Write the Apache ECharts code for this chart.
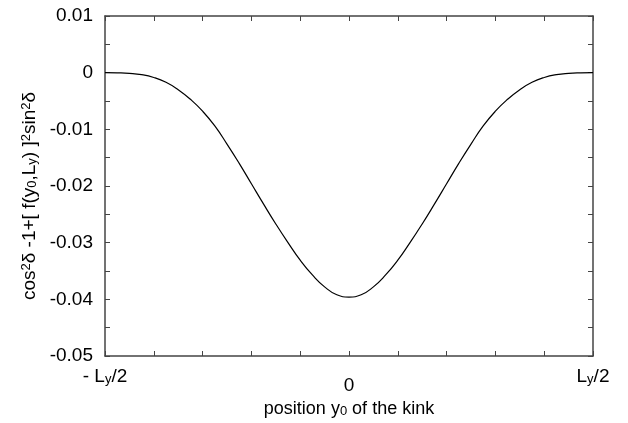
<!DOCTYPE html>
<html>
<head>
<meta charset="utf-8">
<script src="https://cdn.jsdelivr.net/npm/echarts@6/dist/echarts.min.js"></script>
<style>
  html, body { margin: 0; padding: 0; background: #fff; }
  #chart { width: 628px; height: 423px; }
</style>
</head>
<body>
<div id="chart"></div>
<script>
// kink position in units of Ly, from -Ly/2 to Ly/2
var positions = [-0.5, -0.475, -0.45, -0.425, -0.4, -0.375, -0.35, -0.325, -0.3, -0.275,
  -0.25, -0.225, -0.2, -0.175, -0.15, -0.125, -0.1, -0.075, -0.05, -0.025,
  0, 0.025, 0.05, 0.075, 0.1, 0.125, 0.15, 0.175, 0.2, 0.225,
  0.25, 0.275, 0.3, 0.325, 0.35, 0.375, 0.4, 0.425, 0.45, 0.475, 0.5];
var values = [0, -0.00003, -0.00012, -0.00035, -0.00085, -0.0017, -0.0030, -0.0047, -0.0068, -0.0094,
  -0.0126, -0.0160, -0.0196, -0.0232, -0.0267, -0.0300, -0.0331, -0.0357, -0.0378, -0.0392,
  -0.0396, -0.0392, -0.0378, -0.0357, -0.0331, -0.0300, -0.0267, -0.0232, -0.0196, -0.0160,
  -0.0126, -0.0094, -0.0068, -0.0047, -0.0030, -0.0017, -0.00085, -0.00035, -0.00012, -0.00003, 0];
var xTickLabels = { '-0.5': '- L{sub|y}/2', '0': '{n|0}', '0.5': 'L{sub|y}/2' };

var axisColor = '#444';
var font = 'Liberation Sans, Arial, sans-serif';

var myChart = echarts.init(document.getElementById('chart'));

var frameAxis = {
  axisLine: { show: true, onZero: false, lineStyle: { color: axisColor, width: 1.5 } },
  axisTick: { show: true, inside: true, length: 5, lineStyle: { color: axisColor } },
  splitLine: { show: false }
};

var option = {
  animation: false,
  backgroundColor: '#fff',
  grid: { left: 105, right: 35, top: 16, bottom: 67 },
  xAxis: [
    Object.assign({
      type: 'value', min: -0.5, max: 0.5, interval: 0.1,
      name: 'position y{sub|0} of the kink',
      nameLocation: 'middle', nameGap: 33,
      nameTextStyle: {
        color: '#000', fontSize: 18, fontFamily: font,
        rich: { sub: { fontSize: 13, verticalAlign: 'bottom', lineHeight: 10, fontFamily: font, color: '#000' } }
      },
      axisLabel: {
        color: '#000', fontSize: 19, fontFamily: font, margin: 11,
        formatter: function (v) {
          var k = String(Math.round(v * 10) / 10);
          return xTickLabels[k] !== undefined ? xTickLabels[k] : '';
        },
        rich: {
          sub: { fontSize: 13, verticalAlign: 'bottom', lineHeight: 11, fontFamily: font, color: '#000' },
          n: { fontSize: 19, fontFamily: font, color: '#000', padding: [9, 0, 0, 0] }
        }
      }
    }, frameAxis),
    Object.assign({
      type: 'value', position: 'top', min: -0.5, max: 0.5, interval: 0.1,
      axisLabel: { show: false }
    }, frameAxis)
  ],
  yAxis: [
    Object.assign({
      type: 'value', min: -0.05, max: 0.01, interval: 0.01,
      name: 'cos{sup|2}δ -1+[ f(y{sub|0},L{sub|y}) ]{sup|2}sin{sup|2}δ',
      nameLocation: 'middle', nameGap: 66, nameRotate: 90,
      nameTextStyle: {
        color: '#000', fontSize: 19, fontFamily: font, padding: [0, 20, 0, 0],
        rich: {
          sup: { fontSize: 13, verticalAlign: 'top', lineHeight: 9, fontFamily: font, color: '#000' },
          sub: { fontSize: 13, verticalAlign: 'bottom', lineHeight: 9, fontFamily: font, color: '#000' }
        }
      },
      minorTick: { show: true, splitNumber: 2, length: 5, lineStyle: { color: axisColor } },
      axisLabel: {
        color: '#000', fontSize: 19, fontFamily: font, margin: 12,
        formatter: function (v) {
          var r = Math.round(v * 100) / 100;
          return r === 0 ? '0' : r.toFixed(2);
        }
      }
    }, frameAxis),
    Object.assign({
      type: 'value', position: 'right', min: -0.05, max: 0.01, interval: 0.01,
      minorTick: { show: true, splitNumber: 2, length: 5, lineStyle: { color: axisColor } },
      axisLabel: { show: false }
    }, frameAxis)
  ],
  series: [{
    type: 'line',
    data: positions.map(function (p, i) { return [p, values[i]]; }),
    smooth: 0.5,
    showSymbol: false,
    lineStyle: { color: '#000', width: 1.2 }
  }]
};

myChart.setOption(option);
</script>
</body>
</html>
